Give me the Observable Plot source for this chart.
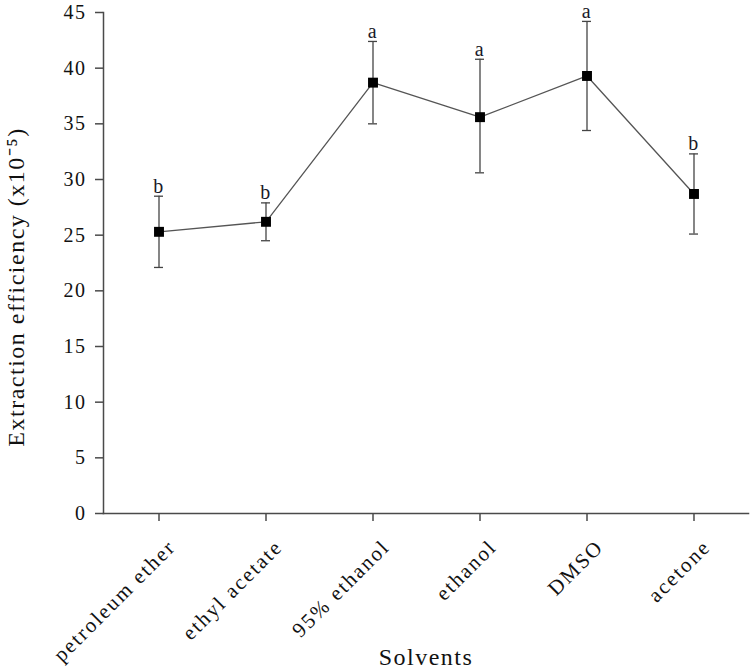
<!DOCTYPE html>
<html>
<head>
<meta charset="utf-8">
<script src="https://cdn.jsdelivr.net/npm/d3@7"></script>
<script src="https://cdn.jsdelivr.net/npm/@observablehq/plot@0.6"></script>
<style>
  html, body { margin: 0; padding: 0; background: #fff; }
</style>
</head>
<body>
<div id="chart"></div>
<script>
const solvents = ["petroleum ether", "ethyl acetate", "95% ethanol", "ethanol", "DMSO", "acetone"];
const means    = [25.3, 26.2, 38.7, 35.6, 39.3, 28.7];
const uppers   = [28.5, 27.9, 42.4, 40.8, 44.2, 32.3];
const lowers   = [22.1, 24.5, 35.0, 30.6, 34.4, 25.1];
const letters  = ["b", "b", "a", "a", "a", "b"];
const yTicks   = [0, 5, 10, 15, 20, 25, 30, 35, 40, 45];
const yLabel   = "Extraction efficiency (x10\u207B\u2075)";
const xLabel   = "Solvents";

const data = solvents.map((s, i) => ({solvent: s, mean: means[i], hi: uppers[i], lo: lowers[i], letter: letters[i]}));

const serif = "'Liberation Serif', 'Times New Roman', serif";
const axisColor = "#4a4a4a";

const chart = Plot.plot({
  width: 750,
  height: 670,
  marginLeft: 103,
  marginRight: 2,
  marginTop: 12,
  marginBottom: 157,
  style: {fontFamily: serif, color: "#111", background: "#fff"},
  x: {type: "band", domain: solvents, paddingInner: 0.916, paddingOuter: 0.458, align: 0.5},
  y: {domain: [0, 45]},
  marks: [
    Plot.frame({anchor: "left", stroke: axisColor, strokeWidth: 1.5}),
    Plot.frame({anchor: "bottom", stroke: axisColor, strokeWidth: 1.5}),
    Plot.axisY({ticks: yTicks, tickSize: 8, tickPadding: 9, fontSize: 20, fontFamily: serif, label: null, stroke: axisColor, strokeWidth: 1.5, fill: "#111"}),
    Plot.axisX({tickSize: 8, tickFormat: () => "", label: null, stroke: axisColor, strokeWidth: 1.5}),
    Plot.axisX({tickSize: 0, tickPadding: 30, tickRotate: -45, dx: 13, fontSize: 21, fontFamily: serif, label: null, fill: "#111", className: "xlabels"}),
    Plot.text([yLabel], {frameAnchor: "left", text: d => d, rotate: -90, textAnchor: "middle", dx: -87, dy: 24, fontSize: 24, fontFamily: serif, fill: "#111"}),
    Plot.text([xLabel], {frameAnchor: "bottom", text: d => d, dy: 151, fontSize: 24, fontFamily: serif, fill: "#111"}),
    Plot.line(data, {x: "solvent", y: "mean", stroke: "#555", strokeWidth: 1.3}),
    Plot.ruleX(data, {x: "solvent", y1: "lo", y2: "hi", stroke: "#444", strokeWidth: 1.3}),
    Plot.tickY(data, {x: "solvent", y: "hi", stroke: "#444", strokeWidth: 1.3}),
    Plot.tickY(data, {x: "solvent", y: "lo", stroke: "#444", strokeWidth: 1.3}),
    Plot.dot(data, {x: "solvent", y: "mean", symbol: "square", r: 5.6, fill: "#000", stroke: "none"}),
    Plot.text(data, {x: "solvent", y: "hi", text: "letter", dy: -3.5, lineAnchor: "bottom", fontSize: 20, fontFamily: serif, fill: "#1a1a2a"})
  ]
});
chart.querySelectorAll("text").forEach(t => t.style.letterSpacing = "1.5px");
chart.querySelectorAll("g.xlabels text").forEach(t => t.style.letterSpacing = "2px");
document.getElementById("chart").appendChild(chart);
</script>
</body>
</html>
